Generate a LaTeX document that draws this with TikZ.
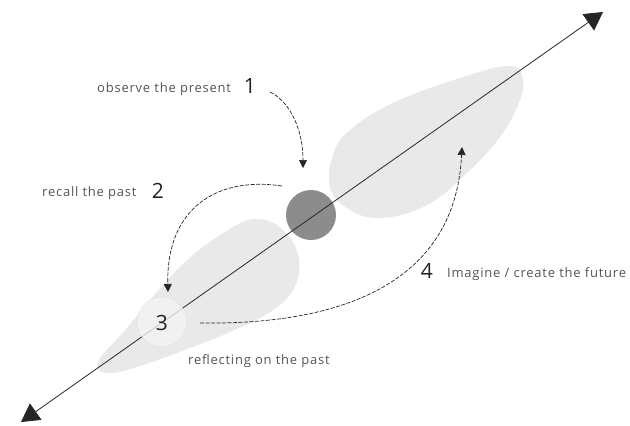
\documentclass[tikz,border=0pt]{standalone}
\usepackage{fontspec}
\setmainfont{Open Sans}
\newfontfamily\spacedfont[LetterSpace=6]{Open Sans}
\usetikzlibrary{arrows.meta}
\definecolor{blob}{HTML}{E9E9E9}
\definecolor{darkdot}{HTML}{8C8C8C}
\definecolor{lightdot}{HTML}{F3F3F3}
\definecolor{txt}{HTML}{555555}
\definecolor{num}{HTML}{222222}
\tikzset{
  lbl/.style={font=\spacedfont\fontsize{13}{15}\selectfont, text=txt, inner sep=0pt, anchor=base west},
  numlbl/.style={font=\fontsize{21}{24}\selectfont, text=num, inner sep=0pt, anchor=base},
  curvearrow/.style={draw=black!85, line width=0.7pt, dash pattern=on 4pt off 1.5pt, -{Triangle[width=8pt,length=8pt]}},
  axis/.style={draw=black!85, line width=0.8pt, {Triangle[width=20pt,length=18pt]}-{Triangle[width=20pt,length=18pt]}}
}
\begin{document}
\begin{tikzpicture}[x=1pt,y=-1pt]
\useasboundingbox (0,0) rectangle (630,426);
% blobs
\fill[blob] plot[smooth cycle, tension=0.7] coordinates {(330,187) (333,155) (350,130) (393,103) (460,78) (510,66) (523,80) (518,105) (500,137) (467,173) (427,205) (380,218) (347,208)};
\fill[blob] plot[smooth cycle, tension=0.7] coordinates {(257,219) (285,232) (299,260) (293,290) (270,312) (230,332) (190,348) (140,366) (108,373) (98,362) (125,330) (180,267) (225,232)};
% present
\node[circle, fill=darkdot, minimum size=50pt, inner sep=0pt] (present) at (311,215) {};
% axis
\coordinate (past) at (21,422);
\coordinate (future) at (603,12);
\draw[axis] (past) -- (future);
% reflecting circle
\node[circle, fill=lightdot, fill opacity=0.8, draw=black!25, densely dotted, minimum size=50pt, inner sep=0pt] (refl) at (162,322) {};
\node[numlbl, anchor=center] (n3) at (162,323) {3};
% labels
\node[lbl] (obs) at (97,92) {observe the present};
\node[numlbl] (n1) at (250,93) {1};
\node[lbl] (rec) at (42,196) {recall the past};
\node[numlbl] (n2) at (158,198) {2};
\node[numlbl] (n4) at (427,278) {4};
\node[lbl] (img) at (447,277) {Imagine / create the future};
\node[lbl] (rfl) at (188,364) {reflecting on the past};
% curved arrows
\coordinate (a1s) at (270,92);
\coordinate (a1e) at (303,168);
\draw[curvearrow] (a1s) .. controls (287,100) and (303,125) .. (a1e);
\coordinate (a2s) at (282,186);
\coordinate (a2e) at (168,292);
\draw[curvearrow] (a2s) .. controls (215,176) and (166,210) .. (a2e);
\coordinate (a4s) at (200,323);
\coordinate (a4e) at (462,147);
\draw[curvearrow] (a4s) .. controls (330,325) and (455,290) .. (a4e);
\end{tikzpicture}
\end{document}
